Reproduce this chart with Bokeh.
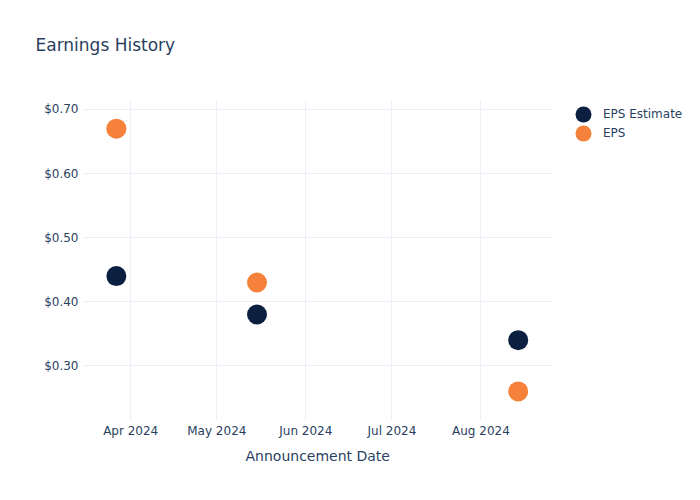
from datetime import datetime, timezone
from bokeh.plotting import figure
from bokeh.models import (ColumnDataSource, Range1d, FixedTicker, MonthsTicker,
                          DatetimeTickFormatter, NumeralTickFormatter, Legend,
                          LegendItem, Title)
from bokeh.embed import file_html
from bokeh.resources import INLINE

# ---- data ----
dates = [datetime(2024, 3, 27), datetime(2024, 5, 15), datetime(2024, 8, 14)]
eps_estimate = [0.44, 0.38, 0.34]
eps_actual = [0.67, 0.43, 0.26]
y_ticks = [0.30, 0.40, 0.50, 0.60, 0.70]
series_names = ["EPS Estimate", "EPS"]
title_text = "Earnings History"
x_label = "Announcement Date"

FONT = "DejaVu Sans"
TXT = "#2a3f5f"
GRID = "#ebf0f8"
NAVY = "#0b1f41"
ORANGE = "#f6813a"

x_start = datetime(2024, 3, 15, 5)
x_visible_end = datetime(2024, 8, 26, 7)
x_frame_end = datetime(2024, 10, 16, 12)   # frame extends under the legend area


def ms(d):
    return d.replace(tzinfo=timezone.utc).timestamp() * 1000.0


src = ColumnDataSource(dict(date=dates, est=eps_estimate, eps=eps_actual))

p = figure(width=700, height=500, output_backend="svg", toolbar_location=None,
           x_axis_type="datetime",
           x_range=Range1d(x_start, x_frame_end),
           y_range=Range1d(0.2146, 0.714),
           min_border_left=82, min_border_right=0, min_border_top=100,
           min_border_bottom=80)
p.outline_line_color = None
p.background_fill_color = "white"
p.border_fill_color = "white"

r_est = p.scatter("date", "est", source=src, size=20, fill_color=NAVY, line_color=None)
r_eps = p.scatter("date", "eps", source=src, size=20, fill_color=ORANGE, line_color=None)

# axes
for ax in (p.xaxis[0], p.yaxis[0]):
    ax.axis_line_color = None
    ax.major_tick_line_color = None
    ax.minor_tick_line_color = None
    ax.major_tick_out = 0
    ax.major_tick_in = 0
    ax.major_label_text_font = FONT
    ax.major_label_text_font_size = "12px"
    ax.major_label_text_color = TXT

p.xaxis.ticker = MonthsTicker(months=list(range(12)))
p.xaxis.formatter = DatetimeTickFormatter(months="%b %Y", days="%b %Y")
p.xaxis.bounds = (ms(x_start), ms(x_visible_end))
p.xaxis.major_label_standoff = 3

p.yaxis.ticker = FixedTicker(ticks=y_ticks)
p.yaxis.formatter = NumeralTickFormatter(format="$0.00")
p.yaxis.major_label_standoff = 4

p.xgrid.grid_line_color = GRID
p.xgrid.bounds = (ms(x_start), ms(x_visible_end))
p.ygrid.grid_line_color = GRID
p.ygrid.cross_bounds = (ms(x_start), ms(x_visible_end))

# spacer between plot area and chart title, then the title itself
p.add_layout(Title(text=" ", text_font=FONT, text_font_size="17px",
                   text_color="white", standoff=24), "above")
p.add_layout(Title(text=title_text, text_font=FONT, text_font_size="17px",
                   text_font_style="normal", text_color=TXT, align="left",
                   offset=-47, standoff=0), "above")

# x-axis title, centred under the visible plot area
p.add_layout(Title(text=x_label, text_font=FONT, text_font_size="14px",
                   text_font_style="normal", text_color=TXT, align="left",
                   offset=163, standoff=10), "below")

# legends (one per item: tight pitch with large markers)
for name, rend, vy in [(series_names[0], r_est, 286), (series_names[1], r_eps, 267)]:
    lg = Legend(items=[LegendItem(label=name, renderers=[rend])],
                location=(481, vy), glyph_width=40, glyph_height=40,
                label_height=40, label_standoff=0, padding=0, margin=0,
                border_line_color=None, background_fill_alpha=0,
                label_text_font=FONT, label_text_font_size="12px",
                label_text_color=TXT)
    p.add_layout(lg, "center")

open("out.html", "w").write(file_html(p, INLINE))
